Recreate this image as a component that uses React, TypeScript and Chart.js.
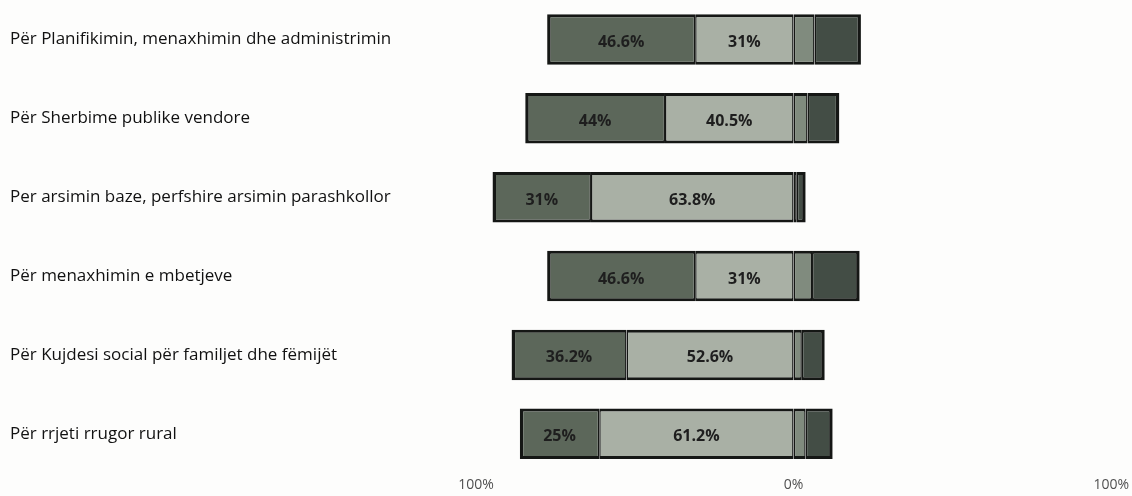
import React, { useEffect, useRef } from "react";
import { Chart, registerables } from "chart.js";

Chart.register(...registerables);

const categories = [
  "Për Planifikimin, menaxhimin dhe administrimin",
  "Për Sherbime publike vendore",
  "Per arsimin baze, perfshire arsimin parashkollor",
  "Për menaxhimin e mbetjeve",
  "Për Kujdesi social për familjet dhe fëmijët",
  "Për rrjeti rrugor rural",
];

// left side (shown left of 0%)
const innerLeft = [31, 40.5, 63.8, 31, 52.6, 61.2];
const outerLeft = [46.6, 44, 31, 46.6, 36.2, 25];
// right side (shown right of 0%)
const innerRight = [6.6, 4.4, 1.0, 5.8, 2.6, 3.8];
const outerRight = [14.6, 10.0, 2.8, 15.0, 7.2, 8.5];

const xTicks = [-100, 0, 100];

const labelPlugin = {
  id: "segLabels",
  afterDatasetsDraw(chart: any) {
    const ctx = chart.ctx;
    ctx.save();
    ctx.font = "bold 16px 'Open Sans', Lato, sans-serif";
    ctx.fillStyle = "#1e1e1e";
    ctx.textAlign = "center";
    ctx.textBaseline = "middle";
    [0, 1].forEach((di) => {
      const meta = chart.getDatasetMeta(di);
      const ds = chart.data.datasets[di];
      meta.data.forEach((el: any, i: number) => {
        const v = Math.abs(ds.data[i]);
        const cx = (el.x + el.base) / 2;
        ctx.fillText(v + "%", cx, el.y + 3);
      });
    });
    ctx.restore();
  },
};

export default function App() {
  const ref = useRef<HTMLCanvasElement | null>(null);
  useEffect(() => {
    if (!ref.current) return;
    const border = "#151715";
    const common = {
      borderColor: border,
      borderSkipped: false,
      categoryPercentage: 1,
      barPercentage: 0.64,
    };
    const chart = new Chart(ref.current, {
      type: "bar",
      data: {
        labels: categories,
        datasets: [
          {
            label: "a",
            data: innerLeft.map((v) => -v),
            backgroundColor: "#a9b0a5",
            borderWidth: { top: 3, bottom: 3, left: 1.5, right: 1.5 },
            ...common,
          },
          {
            label: "b",
            data: outerLeft.map((v) => -v),
            backgroundColor: "#5c675a",
            borderWidth: { top: 3, bottom: 3, left: 3.5, right: 1.5 },
            ...common,
          },
          {
            label: "c",
            data: innerRight,
            backgroundColor: "#808b7e",
            borderWidth: { top: 3, bottom: 3, left: 1.5, right: 1.5 },
            ...common,
          },
          {
            label: "d",
            data: outerRight,
            backgroundColor: "#434d45",
            borderWidth: { top: 3, bottom: 3, left: 1.5, right: 3.5 },
            ...common,
          },
        ] as any,
      },
      options: {
        indexAxis: "y",
        animation: false,
        responsive: false,
        maintainAspectRatio: false,
        layout: { padding: { left: 10, right: 0, top: 0, bottom: 0 } },
        plugins: { legend: { display: false }, tooltip: { enabled: false } },
        scales: {
          x: {
            stacked: true,
            min: -100,
            max: 100,
            afterBuildTicks: (scale: any) => {
              scale.ticks = xTicks.map((v) => ({ value: v }));
            },
            grid: { display: false, drawTicks: false },
            border: { display: false },
            ticks: {
              padding: 3,
              color: "#505050",
              font: { family: "'Open Sans', Lato, sans-serif", size: 14 },
              callback: (v: any) => Math.abs(Number(v)) + "%",
              maxRotation: 0,
            },
          },
          y: {
            stacked: true,
            grid: { display: false, drawTicks: false },
            border: { display: false },
            afterFit: (scale: any) => {
              scale.width = 466;
              scale.paddingTop = 0;
              scale.paddingBottom = 0;
            },
            ticks: {
              crossAlign: "far",
              color: "#111",
              font: { family: "'Open Sans', Lato, sans-serif", size: 17 },
            },
          },
        },
      } as any,
      plugins: [labelPlugin],
    });
    return () => chart.destroy();
  }, []);
  return (
    <div style={{ position: "fixed", left: 0, top: 0, width: 1132, height: 496, background: "#fdfdfc" }}>
      <canvas ref={ref} width={1132} height={496} style={{ width: 1132, height: 496 }} />
    </div>
  );
}
